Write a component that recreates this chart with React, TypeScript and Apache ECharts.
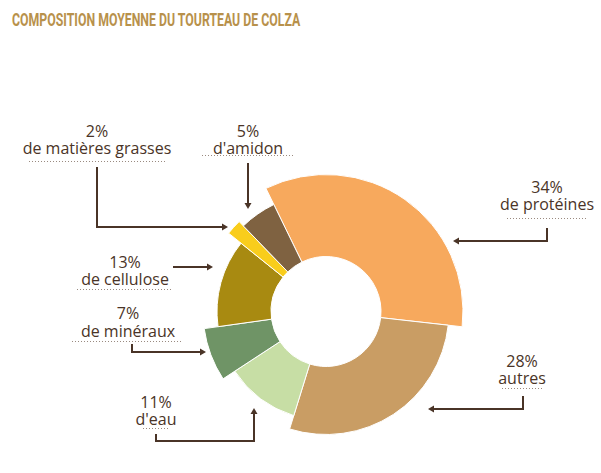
import React, { useEffect, useRef } from "react";
import * as echarts from "echarts";

const categories = ["de protéines", "autres", "d'eau", "de minéraux", "de cellulose", "de matières grasses", "d'amidon"];
const values = [34, 28, 11, 7, 13, 2, 5];
const percentLabels = ["34%", "28%", "11%", "7%", "13%", "2%", "5%"];
const colors = ["#F7A95D", "#C99D64", "#C7DEA5", "#6F9466", "#A88A11", "#F9CD1C", "#7F6241"];
const outerRadii = [137, 123, 109, 123, 109, 125, 119];
const title = "COMPOSITION MOYENNE DU TOURTEAU DE COLZA";

const TEXT = "#4A3427";
const DOT = "#9A8A80";
const LABEL_FONT = "500 16px 'Open Sans', sans-serif";
const TITLE_FONT = "bold 18px 'Roboto', sans-serif";

// label layout: [centerX, pctY, nameY, dotY, dotX1, dotX2]
const labelLayout: number[][] = [
  [547, 187, 204, 218, 507, 588],
  [522, 361, 378, 388, 502, 543],
  [156, 402, 419, 428, 143, 168],
  [128, 313, 331, 341, 72, 182],
  [125, 262, 279, 289, 77, 172],
  [97, 131, 148, 161, 29, 166],
  [248, 131, 148, 155, 202, 293],
];
// arrow paths
const arrowPaths: number[][][] = [
  [[547, 228], [547, 241], [456, 241]],
  [[523, 396], [523, 409], [431, 409]],
  [[156, 434], [156, 441], [254, 441], [254, 411]],
  [[132, 344], [132, 352], [203, 352]],
  [[173, 267], [210, 267]],
  [[97, 167], [97, 227], [225, 227]],
  [[248, 163], [248, 206]],
];

function measure(text: string, font: string) {
  const c = document.createElement("canvas").getContext("2d");
  if (!c) return 0;
  c.font = font;
  return c.measureText(text).width;
}

export default function App() {
  const ref = useRef<HTMLDivElement>(null);
  useEffect(() => {
    if (!ref.current) return;
    const chart = echarts.init(ref.current, null, { renderer: "svg" });
    const series = categories.map((_, si) => ({
      type: "pie",
      radius: [55, outerRadii[si]],
      center: [326, 311.5],
      startAngle: 116,
      clockwise: true,
      silent: true,
      label: { show: false },
      labelLine: { show: false },
      emphasis: { disabled: true },
      data: categories.map((c, i) => ({
        name: c,
        value: values[i],
        itemStyle:
          i === si
            ? { color: colors[i], borderColor: "#fff", borderWidth: 1 }
            : { color: "rgba(0,0,0,0)", borderWidth: 0 },
      })),
    }));

    const tw = measure(title, TITLE_FONT) || 289;
    const graphics: any[] = [
      {
        type: "text",
        x: 12,
        y: 11,
        scaleX: 289 / tw,
        style: {
          text: title,
          fill: "#B8914B",
          font: TITLE_FONT,
          verticalAlign: "top",
        },
      },
    ];
    categories.forEach((c, i) => {
      const [cx, py, ny, dy, dx1, dx2] = labelLayout[i];
      graphics.push({
        type: "text",
        x: cx,
        y: (py + ny) / 2,
        style: {
          text: percentLabels[i] + "\n" + c,
          fill: TEXT,
          font: LABEL_FONT,
          lineHeight: ny - py,
          align: "center",
          verticalAlign: "middle",
        },
      });
      graphics.push({
        type: "line",
        shape: { x1: dx1, y1: dy + 0.5, x2: dx2, y2: dy + 0.5 },
        style: { stroke: DOT, lineWidth: 1, lineDash: [1, 2] },
      });
      const pts = arrowPaths[i];
      graphics.push({
        type: "polyline",
        shape: { points: pts },
        style: { stroke: TEXT, lineWidth: 2, fill: null },
      });
      const a = pts[pts.length - 2];
      const b = pts[pts.length - 1];
      const ddx = b[0] - a[0];
      const ddy = b[1] - a[1];
      const len = Math.sqrt(ddx * ddx + ddy * ddy);
      const ux = ddx / len;
      const uy = ddy / len;
      const tip = [b[0] + ux * 3, b[1] + uy * 3];
      const base = [b[0] - ux * 3, b[1] - uy * 3];
      graphics.push({
        type: "polygon",
        shape: {
          points: [tip, [base[0] - uy * 3.5, base[1] + ux * 3.5], [base[0] + uy * 3.5, base[1] - ux * 3.5]],
        },
        style: { fill: TEXT },
      });
    });

    chart.setOption({
      animation: false,
      series,
      graphic: graphics,
    });
    return () => chart.dispose();
  }, []);
  return <div ref={ref} style={{ position: "fixed", left: 0, top: 0, width: 601, height: 473, background: "#fff" }} />;
}
